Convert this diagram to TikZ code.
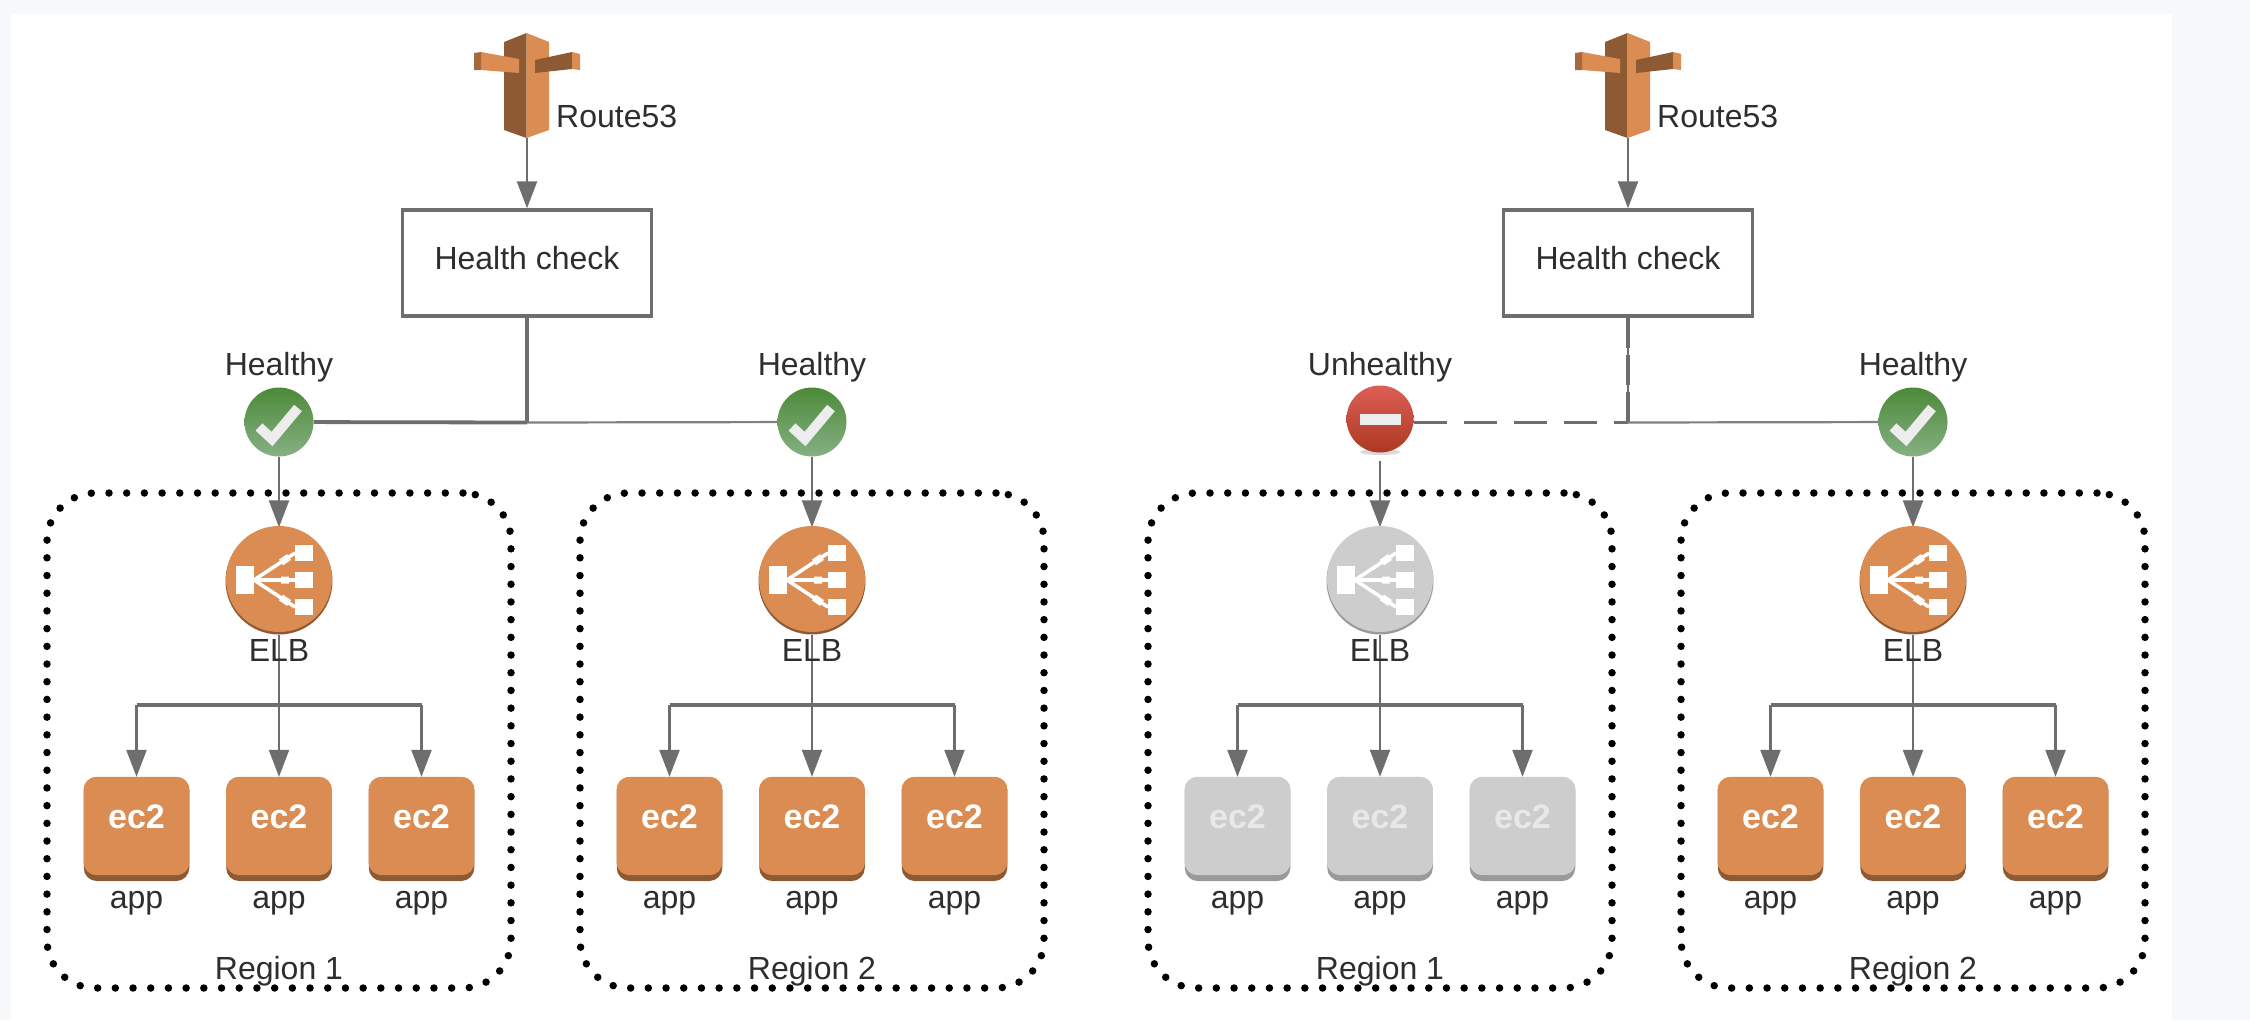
\documentclass[tikz,border=0pt]{standalone}
\usepackage{fontspec}
\setmainfont{Liberation Sans}
\usetikzlibrary{arrows.meta,calc,backgrounds,shapes.geometric}
\definecolor{pagebg}{HTML}{F6F8FA}
\definecolor{linegray}{HTML}{6E6E6E}
\definecolor{thingray}{HTML}{808080}
\definecolor{inkgray}{HTML}{2E2E2E}
\definecolor{awsface}{HTML}{DA8C52}
\definecolor{awsedge}{HTML}{8E5A34}
\definecolor{offface}{HTML}{CDCDCD}
\definecolor{offedge}{HTML}{9A9A9A}
\definecolor{offtext}{HTML}{E8E8E8}
\definecolor{goodtop}{HTML}{4C8A38}
\definecolor{goodbot}{HTML}{86B084}
\definecolor{badtop}{HTML}{DC5F55}
\definecolor{badbot}{HTML}{AE3823}
\tikzset{
  lbl/.style={font=\fontsize{32}{36}\selectfont, text=inkgray, inner sep=0pt, anchor=base},
  conn/.style={draw=linegray, line width=2.4pt},
  thinconn/.style={draw=thingray, line width=2.2pt},
  thickconn/.style={draw=linegray, line width=3.8pt},
  flow/.style={conn, -{Triangle[width=20pt,length=27pt]}},
  hcbox/.style={draw=linegray, line width=3.4pt, fill=white, minimum width=249pt, minimum height=106pt,
     inner sep=0pt, text height=59pt, text depth=47pt, font=\fontsize{32}{36}\selectfont, text=inkgray},
  regionbox/.style={draw=black, dash pattern=on 0pt off 17.7pt, line cap=round, line width=7.5pt,
     rounded corners=48pt, minimum width=464pt, minimum height=495pt, inner sep=0pt},
  hitbox/.style={inner sep=0pt, minimum width=45pt, minimum height=105pt},
  gooddot/.style={circle, inner sep=0pt, minimum size=69pt, draw=none, shade, top color=goodtop, bottom color=goodbot},
  baddot/.style={circle, inner sep=0pt, minimum size=67pt, draw=none, shade, top color=badtop, bottom color=badbot},
  elbnode/.style={circle, inner sep=0pt, minimum size=107pt},
  ecbox/.style={rectangle, inner sep=0pt, minimum width=105.5pt, minimum height=104pt, rounded corners=13pt},
}
% #1 id, #2 centre x, #3 face, #4 edge, #5 ec2 text, #6 region label
\newcommand{\regionblock}[6]{%
\begin{scope}[shift={(#2,0)}]
  \node[regionbox] (#1box) at (0,740.5) {};
  \node[elbnode, fill=#4] (#1elb) at (0,581) {};
  \fill[#3] (0,579) circle[radius=53pt];
  \fill[white] (-43,-14+580) rectangle (-25,14+580);
  \fill[white] (16,-35+580) rectangle (34,-19+580);
  \fill[white] (16,-8+580) rectangle (34,8+580);
  \fill[white] (16,19+580) rectangle (34,35+580);
  \draw[white, line width=3.6pt] (-25,580) -- (16,553) (-25,580) -- (16,580) (-25,580) -- (16,607);
  \draw[white, line width=7pt] (2,562.5) -- (10,557) (2,580) -- (10,580) (2,597.5) -- (10,603);
  \node[lbl] (#1elbt) at (0,661) {ELB};
  \foreach \suffix/\ox in {a/-142.5,b/0,c/142.5}{
    \node[ecbox, fill=#4] (#1ec\suffix) at (\ox,829) {};
    \fill[#3, rounded corners=13pt] (#1ec\suffix.north west) rectangle ($(#1ec\suffix.south east)+(0,-6)$);
    \node[lbl, font=\fontsize{34}{36}\selectfont\bfseries, text=#5] (#1et\suffix) at (\ox,828) {ec2};
    \node[lbl] (#1ap\suffix) at (\ox,908) {app};
  }
  \node[lbl] (#1rt) at (0,979) {#6};
  \coordinate (#1bus) at (0,705);
\end{scope}
\begin{pgfonlayer}{background}
  \draw[conn] (#1elb.south) -- (#1bus);
  \draw[flow] (#1bus) -- (#1ecb.north);
  \draw[thickconn] (#1bus -| #1eca.north) -- (#1bus -| #1ecc.north);
  \draw[flow] (#1bus -| #1eca.north) -- (#1eca.north);
  \draw[flow] (#1bus -| #1ecc.north) -- (#1ecc.north);
\end{pgfonlayer}
}
\newcommand{\routeicon}[2]{%
\begin{scope}[shift={(#2,0)}]
  \fill[awsedge] (526.5,33) -- (504,42) -- (504,130) -- (526.5,138) -- cycle;
  \fill[awsface] (526.5,33) -- (549,42) -- (549,130) -- (526.5,138) -- cycle;
  \fill[awsface] (481,52) -- (519,59) -- (519,73) -- (481,70) -- cycle;
  \fill[awsedge!70!awsface] (474,53) -- (481,52) -- (481,70) -- (474,70) -- cycle;
  \fill[awsedge] (535,60) -- (572,52) -- (572,69) -- (535,73) -- cycle;
  \fill[awsface] (572,52) -- (580,54) -- (580,70) -- (572,69) -- cycle;
  \node[hitbox] (#1r) at (527,85.5) {};
  \node[lbl, anchor=base west] (#1rl) at (556,127) {Route53};
  \node[hcbox] (#1hc) at (527,263) {Health check};
\end{scope}
\begin{pgfonlayer}{background}
  \draw[flow] (#1r.south) -- (#1hc.north);
\end{pgfonlayer}
}
\newcommand{\okmark}[2]{%
  \node[gooddot] (#1) at (#2,422) {};
  \draw[white!93!black, line width=10pt, line join=miter] ($(#1)+(-20,5)$) -- ($(#1)+(-7,17)$) -- ($(#1)+(19,-14)$);
  \node[lbl] (#1t) at (#2,375) {Healthy};
}
\begin{document}
\begin{tikzpicture}[x=1pt,y=-1pt]
\useasboundingbox (0,0) rectangle (2250,1020);
\begin{pgfonlayer}{background}
  \fill[pagebg] (0,0) rectangle (2250,1020);
  \fill[white] (11,14) rectangle (2172,1020);
\end{pgfonlayer}

\regionblock{lta}{279}{awsface}{awsedge}{white}{Region 1}
\regionblock{ltb}{812}{awsface}{awsedge}{white}{Region 2}
\regionblock{rta}{1380}{offface}{offedge}{offtext}{Region 1}
\regionblock{rtb}{1913}{awsface}{awsedge}{white}{Region 2}

\routeicon{ll}{0}
\routeicon{rr}{1101}

\okmark{sa}{279}
\okmark{sb}{812}
\okmark{sd}{1913}

\fill[gray!30] (1380,452) ellipse [x radius=20, y radius=3];
\node[baddot] (sc) at (1380,419) {};
\fill[white!93!black] ($(sc)+(-20,-5.5)$) rectangle ($(sc)+(21,5.5)$);
\node[lbl] (sct) at (1380,375) {Unhealthy};

\begin{pgfonlayer}{background}
  \coordinate (jl) at (llhc.south |- 0,422.5);
  \coordinate (jr) at (rrhc.south |- 0,422.5);
  \draw[thickconn] (llhc.south) -- (jl);
  \draw[thickconn] (jl) -- (sa);
  \draw[thinconn] (jl) -- (sb);
  \draw[conn] (rrhc.south) -- (jr);
  \draw[thickconn, line width=4pt, dash pattern=on 30pt off 7pt] (rrhc.south) -- (jr);
  \draw[thickconn, dash pattern=on 33pt off 17pt] (sc.east |- jr) -- (jr);
  \draw[thinconn] (jr) -- (sd);
  \draw[flow] (sa.south) -- (ltaelb.north);
  \draw[flow] (sb.south) -- (ltbelb.north);
  \draw[flow, shorten <=8pt] (sc.south) -- (rtaelb.north);
  \draw[flow] (sd.south) -- (rtbelb.north);
\end{pgfonlayer}
\end{tikzpicture}
\end{document}
